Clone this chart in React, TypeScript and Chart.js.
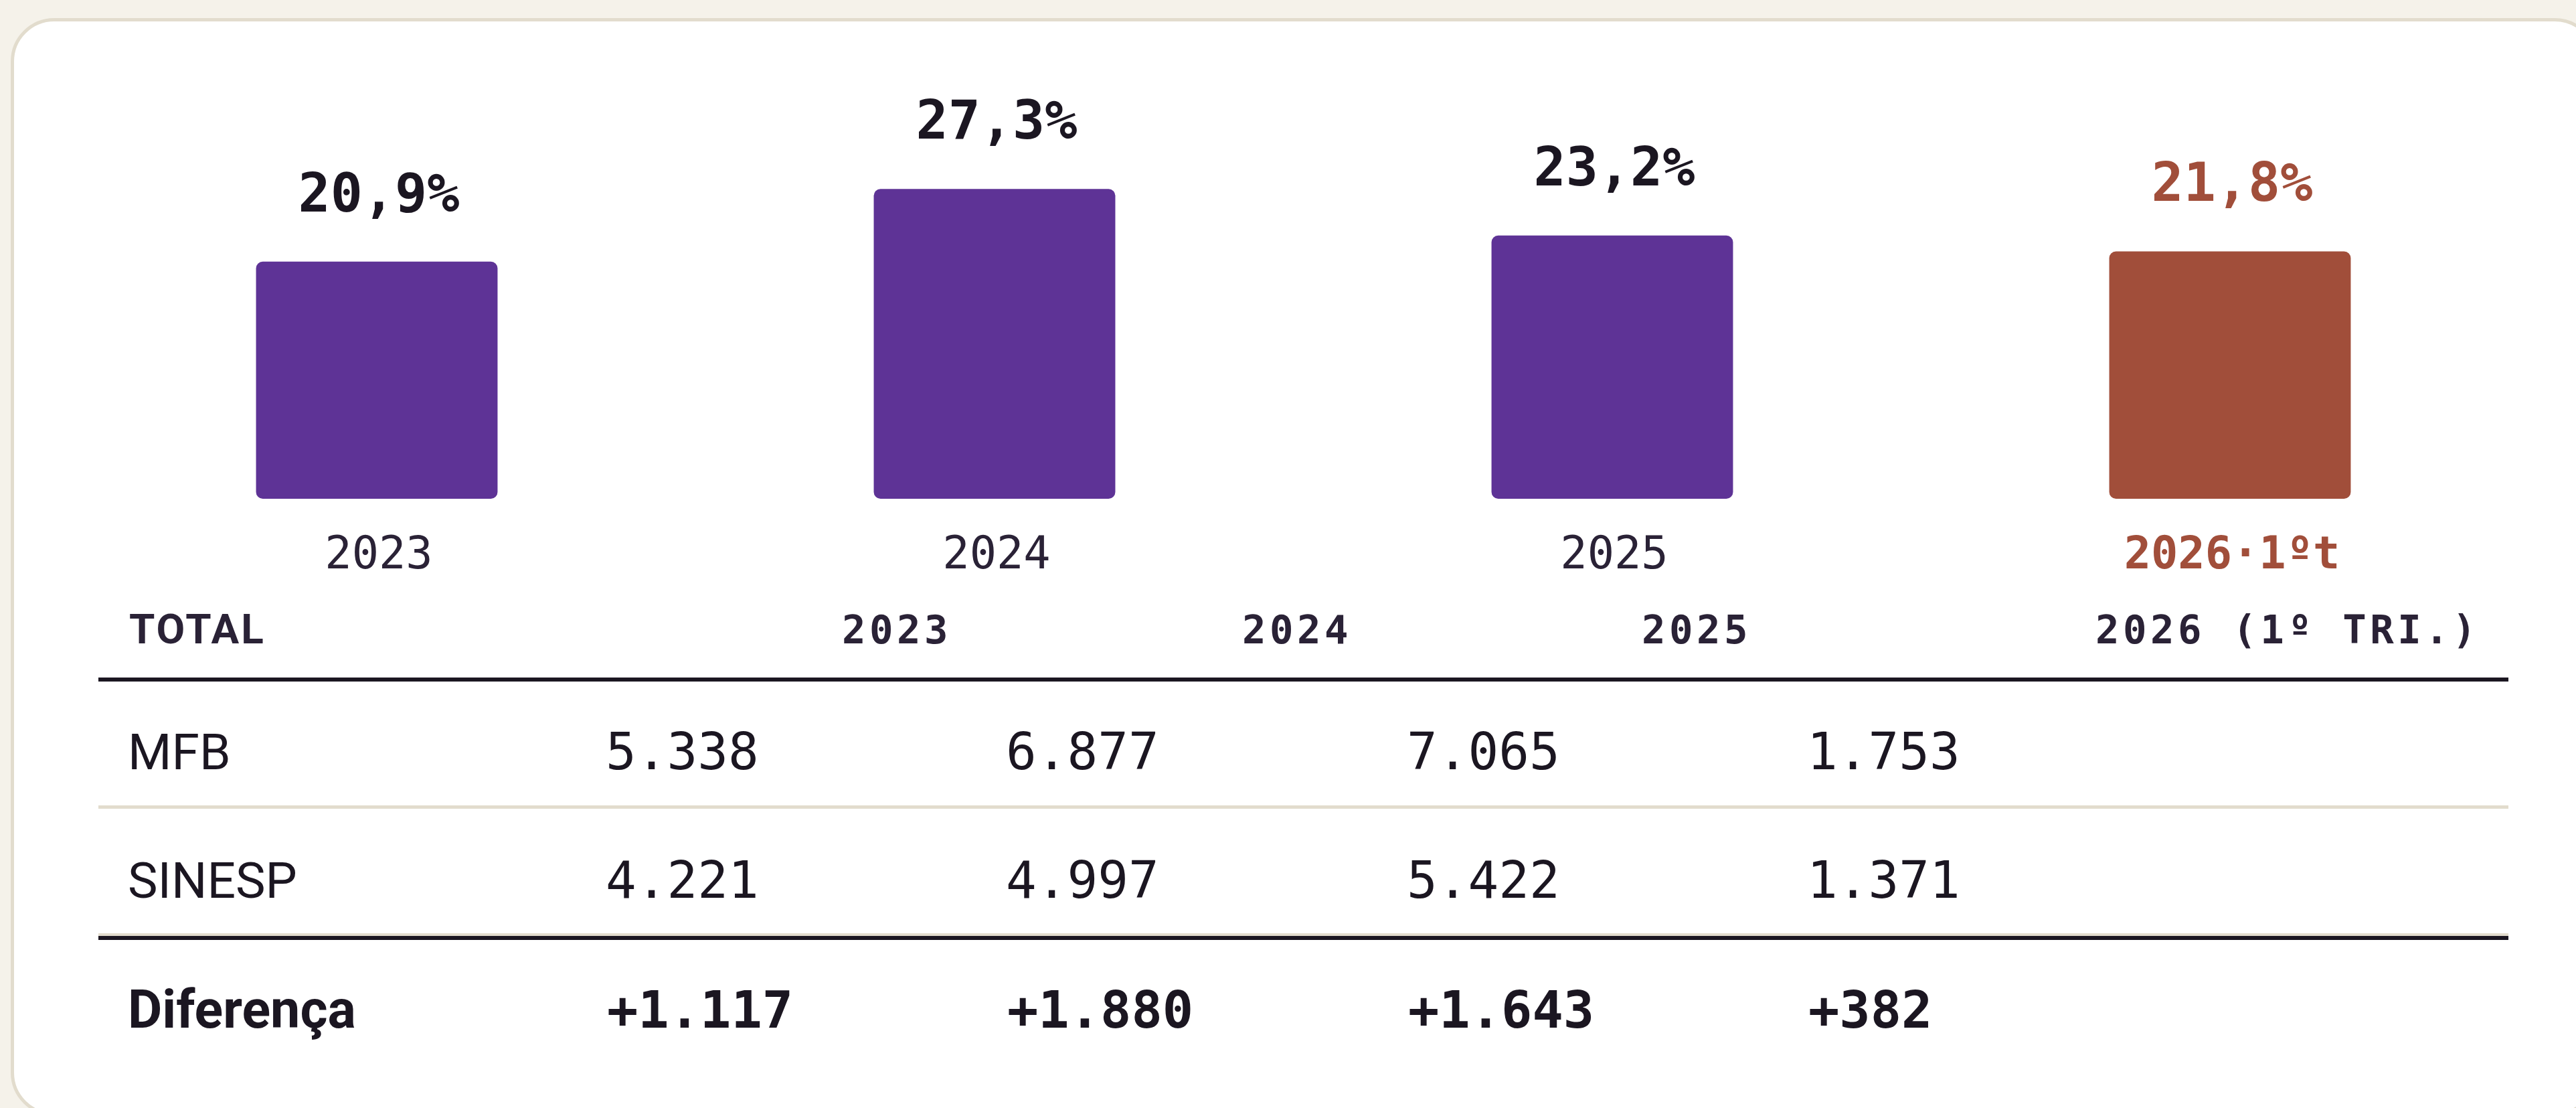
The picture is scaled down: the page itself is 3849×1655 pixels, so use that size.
import React, { useEffect, useRef } from "react";
import { Chart, registerables } from "chart.js";

Chart.register(...registerables);

// ---------- data ----------
const categories = ["2023", "2024", "2025", "2026"];
const categoryLabels = ["2023", "2024", "2025", "2026·1ºt"];
const shareValues = [20.9, 27.3, 23.2, 21.8];
const highlightIndex = 3;

const tableHeaders = ["TOTAL", "2023", "2024", "2025", "2026 (1º TRI.)"];
const rowLabels = ["MFB", "SINESP", "Diferença"];
const mfbValues = [5338, 6877, 7065, 1753];
const sinespValues = [4221, 4997, 5422, 1371];
const diffValues = [1117, 1880, 1643, 382];

// ---------- styles ----------
const W = 3849;
const H = 1655;
const PURPLE = "#5E3396";
const RUST = "#A14E3A";
const INK = "#1B1621";
const SOFT_INK = "#2A2236";
const RULE_LIGHT = "#E2DCCD";
const MONO = '"DejaVu Sans Mono", "Liberation Mono", monospace';
const SANS = 'Roboto, "Noto Sans", sans-serif';

const fmtPct = (v: number) => v.toFixed(1).replace(".", ",") + "%";
const fmtInt = (v: number) => String(v).replace(/\B(?=(\d{3})+(?!\d))/g, ".");

const headerX = [193, 1258, 1856, 2453, 3131];
const dataX = [905, 1503, 2102, 2700];

const labelPlugin = {
  id: "barLabels",
  afterDatasetsDraw(chart: any) {
    const ctx = chart.ctx;
    const meta = chart.getDatasetMeta(0);
    const xScale = chart.scales.x;
    ctx.save();
    ctx.textAlign = "center";
    ctx.textBaseline = "alphabetic";
    meta.data.forEach((bar: any, i: number) => {
      const hl = i === highlightIndex;
      ctx.fillStyle = hl ? RUST : INK;
      ctx.font = `bold 80px ${MONO}`;
      ctx.fillText(fmtPct(shareValues[i]), bar.x + 3, bar.y - 75);
      const x = xScale.getPixelForValue(i);
      ctx.fillStyle = hl ? RUST : SOFT_INK;
      ctx.font = hl ? `bold 67px ${MONO}` : `67px ${MONO}`;
      ctx.fillText(categoryLabels[i], x + 3, 849);
    });
    ctx.restore();
  },
};

const tablePlugin = {
  id: "table",
  afterDraw(chart: any) {
    const ctx = chart.ctx;
    ctx.save();
    ctx.textAlign = "left";
    ctx.textBaseline = "alphabetic";
    // header
    tableHeaders.forEach((h, i) => {
      ctx.fillStyle = SOFT_INK;
      if (i === 0) {
        ctx.font = `bold 62px ${SANS}`;
        (ctx as any).letterSpacing = "3px";
      } else {
        ctx.font = `bold 59px ${MONO}`;
        (ctx as any).letterSpacing = "5.5px";
      }
      ctx.fillText(h, headerX[i], 961);
    });
    (ctx as any).letterSpacing = "0px";
    // rules
    const rule = (y: number, h: number, c: string) => {
      ctx.fillStyle = c;
      ctx.fillRect(147, y, 3748 - 147, h);
    };
    rule(1012, 6, INK);
    rule(1203, 5, RULE_LIGHT);
    rule(1394, 4, RULE_LIGHT);
    rule(1398, 6, INK);
    // rows
    const rows = [mfbValues, sinespValues, diffValues];
    const baselines = [1149, 1341, 1535];
    rows.forEach((vals, r) => {
      const bold = r === 2;
      ctx.fillStyle = INK;
      ctx.font = bold ? `bold 79px ${SANS}` : `75px ${SANS}`;
      ctx.fillText(rowLabels[r], 191, baselines[r]);
      ctx.font = bold ? `bold 77px ${MONO}` : `76px ${MONO}`;
      vals.forEach((v, c) => {
        ctx.fillText((bold ? "+" : "") + fmtInt(v), dataX[c] + (bold ? 2 : 0), baselines[r]);
      });
    });
    ctx.restore();
  },
};

export default function App() {
  const ref = useRef<HTMLCanvasElement>(null);
  useEffect(() => {
    if (!ref.current) return;
    const chart = new Chart(ref.current, {
      type: "bar",
      data: {
        labels: categories,
        datasets: [
          {
            data: shareValues,
            backgroundColor: shareValues.map((_, i) => (i === highlightIndex ? RUST : PURPLE)),
            borderRadius: 10,
            borderSkipped: false,
            categoryPercentage: 1,
            barPercentage: 0.391,
          },
        ],
      },
      options: {
        animation: false,
        responsive: false,
        devicePixelRatio: 1,
        layout: { padding: { left: 101.5, right: 55.5, top: 236.5, bottom: H - 745 } },
        scales: {
          x: { display: false, offset: true },
          y: { display: false, min: 0, max: 30 },
        },
        plugins: { legend: { display: false }, tooltip: { enabled: false } },
      },
      plugins: [labelPlugin, tablePlugin],
    });
    return () => chart.destroy();
  }, []);
  return (
    <div
      style={{
        position: "absolute",
        left: 0,
        top: 0,
        width: W,
        height: H,
        background: "#F5F2EA",
        overflow: "hidden",
      }}
    >
      <div
        style={{
          position: "absolute",
          left: 16,
          top: 27,
          width: 3866,
          height: 1640,
          background: "#FFFFFF",
          border: `5px solid ${RULE_LIGHT}`,
          borderRadius: 65,
          boxSizing: "border-box",
        }}
      />
      <canvas
        ref={ref}
        width={W}
        height={H}
        style={{ position: "absolute", left: 0, top: 0, width: W, height: H }}
      />
    </div>
  );
}
